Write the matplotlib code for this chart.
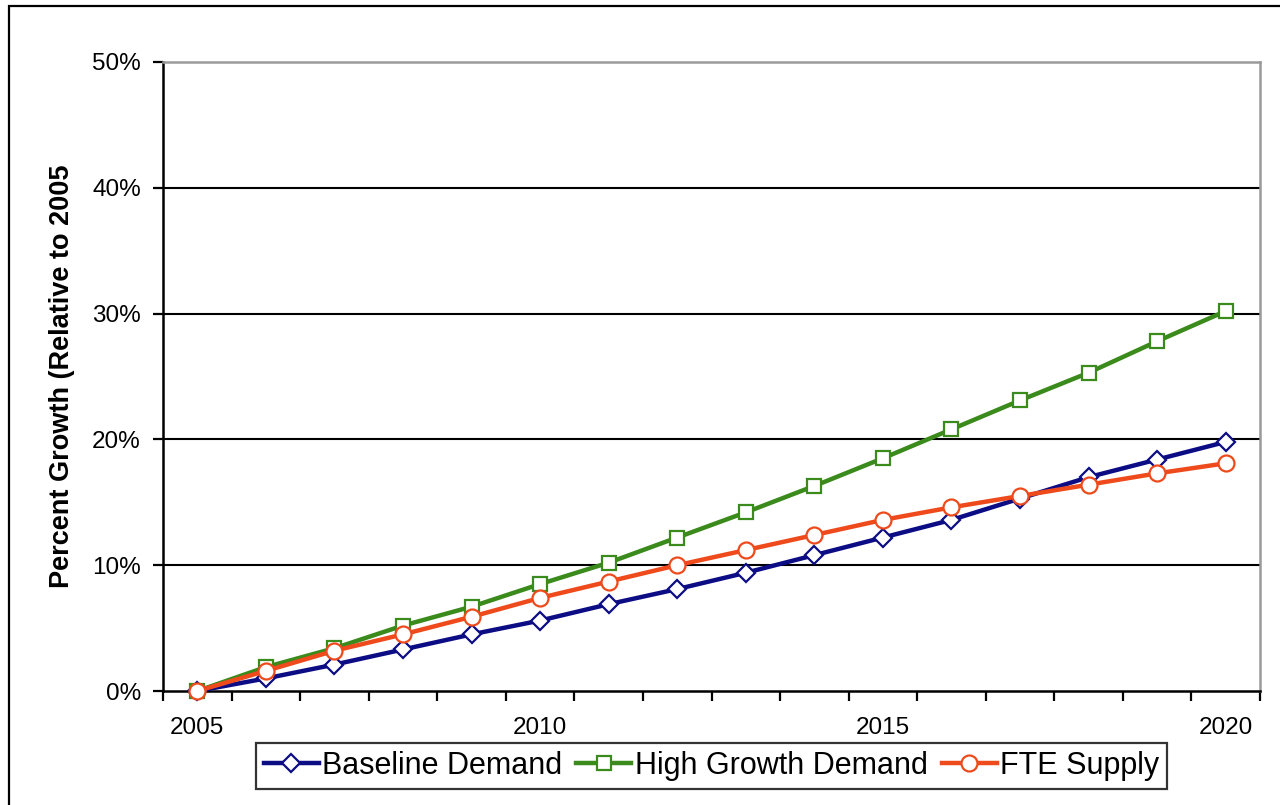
import matplotlib
matplotlib.use("Agg")
import matplotlib.pyplot as plt
from matplotlib.patches import Rectangle
from matplotlib.ticker import FixedLocator, FuncFormatter

plt.rcParams['font.family'] = ['Liberation Sans', 'DejaVu Sans']

years = list(range(2005, 2021))
year_labels = ["2005", "2010", "2015", "2020"]
baseline_demand = [0, 1.0, 2.1, 3.3, 4.5, 5.6, 6.9, 8.1, 9.4, 10.8, 12.2, 13.6, 15.3, 17.0, 18.4, 19.8]
high_growth_demand = [0, 1.9, 3.4, 5.2, 6.7, 8.5, 10.2, 12.2, 14.2, 16.3, 18.5, 20.8, 23.1, 25.3, 27.8, 30.2]
fte_supply = [0, 1.6, 3.2, 4.5, 5.9, 7.4, 8.7, 10.0, 11.2, 12.4, 13.6, 14.6, 15.5, 16.4, 17.3, 18.1]

W, H = 1280, 805
fig = plt.figure(figsize=(W / 100, H / 100), dpi=100)

# outer chart frame
fig.patches.append(Rectangle((9 / W, -0.1), 1.2, 1.1 - 6 / H,
                             transform=fig.transFigure, fill=False,
                             edgecolor="black", linewidth=1.6, zorder=0))

left, right, top, bottom = 163, 1260, 62, 691
ax = fig.add_axes([left / W, 1 - bottom / H, (right - left) / W, (bottom - top) / H])

x = list(range(len(years)))
line_kw = dict(linewidth=3.2, markerfacecolor="white", markeredgewidth=1.6, clip_on=False)
ax.plot(x, baseline_demand, color="#0c0c84", marker="D", markersize=9,
        label="Baseline Demand", zorder=3, **line_kw)
ax.plot(x, high_growth_demand, color="#3a8a1c", marker="s", markersize=10,
        label="High Growth Demand", zorder=4, **line_kw)
ax.plot(x, fte_supply, color="#ee4a1c", marker="o", markersize=11.5,
        label="FTE Supply", zorder=5, **line_kw)

ax.set_xlim(-0.5, len(years) - 0.5)
ax.set_ylim(0, 50)

# category axis: labels every five years, tick marks between categories
label_pos = [years.index(int(y)) for y in year_labels]
ax.set_xticks(label_pos)
ax.set_xticklabels(year_labels)
ax.xaxis.set_minor_locator(FixedLocator([i - 0.5 for i in range(len(years) + 1)]))
ax.tick_params(axis="x", which="major", length=0, pad=19, labelsize=17.5)
ax.tick_params(axis="x", which="minor", length=7, width=1.6, direction="out", color="black")

ax.set_yticks([0, 10, 20, 30, 40, 50])
ax.yaxis.set_major_formatter(FuncFormatter(lambda v, p: f"{int(v)}%"))
ax.tick_params(axis="y", length=7, width=1.6, direction="out", pad=9, labelsize=17.5)

for v in [10, 20, 30, 40]:
    ax.axhline(v, color="black", linewidth=1.5, zorder=1)

for side in ["left", "bottom"]:
    ax.spines[side].set_color("black")
    ax.spines[side].set_linewidth(1.8)
for side in ["top", "right"]:
    ax.spines[side].set_color("#9a9a9a")
    ax.spines[side].set_linewidth(1.8)

ax.set_ylabel("Percent Growth (Relative to 2005", fontsize=19.5, fontweight="bold", labelpad=12.5)

leg = fig.legend(loc="center", bbox_to_anchor=(711.5 / W, 1 - 766 / H), ncol=3,
                 frameon=True, fancybox=False, fontsize=22, handlelength=1.8,
                 handletextpad=0.12, columnspacing=0.45, borderpad=0.25,
                 borderaxespad=0)
leg.get_frame().set_edgecolor("black")
leg.get_frame().set_linewidth(1.6)

fig.savefig("out.png", dpi=100)
